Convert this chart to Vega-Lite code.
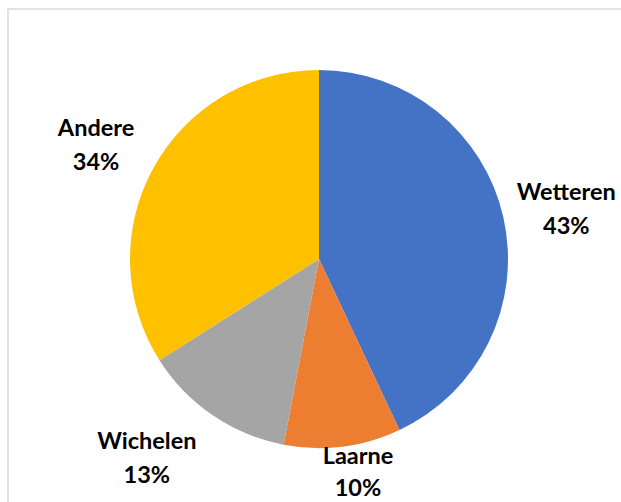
{
  "$schema": "https://vega.github.io/schema/vega-lite/v6.json",
  "width": 621,
  "height": 502,
  "autosize": {"type": "fit", "contains": "padding"},
  "padding": {"left": 7, "top": 8, "right": -3, "bottom": -3},
  "background": "white",
  "config": {
    "view": {"stroke": null},
    "text": {"font": "Lato", "fontWeight": "bold", "fontSize": 23.5, "fill": "#000000", "align": "center", "baseline": "middle"}
  },
  "data": {
    "values": [
      {"name": "Wetteren", "share": 0.43, "rank": 1},
      {"name": "Laarne", "share": 0.10, "rank": 2},
      {"name": "Wichelen", "share": 0.13, "rank": 3},
      {"name": "Andere", "share": 0.34, "rank": 4}
    ]
  },
  "transform": [
    {"stack": "share", "groupby": [], "sort": [{"field": "rank", "order": "ascending"}], "as": ["s0", "s1"]}
  ],
  "layer": [
    {
      "data": {"values": [{"frame": "border"}]},
      "mark": {"type": "rect", "fillOpacity": 0, "stroke": "#d9d9d9", "strokeWidth": 1.5},
      "encoding": {}
    },
    {
      "mark": {"type": "arc", "outerRadius": 189, "xOffset": 3.5, "yOffset": 2.5},
      "encoding": {
        "theta": {"field": "s0", "type": "quantitative", "scale": {"domain": [0, 1]}},
        "theta2": {"field": "s1"},
        "color": {
          "field": "name",
          "type": "nominal",
          "scale": {"domain": ["Wetteren", "Laarne", "Wichelen", "Andere"], "range": ["#4472C4", "#ED7D31", "#A5A5A5", "#FFC000"]},
          "legend": null
        }
      }
    },
    {
      "transform": [{"filter": "datum.name === 'Wetteren'"}],
      "mark": {"type": "text", "radius": 252, "thetaOffset": 1.377, "xOffset": 3.5, "yOffset": 2.5, "dy": -17},
      "encoding": {"theta": {"field": "s0", "type": "quantitative"}, "text": {"field": "name"}}
    },
    {
      "transform": [{"filter": "datum.name === 'Wetteren'"}],
      "mark": {"type": "text", "radius": 252, "thetaOffset": 1.377, "xOffset": 3.5, "yOffset": 2.5, "dy": 17},
      "encoding": {"theta": {"field": "s0", "type": "quantitative"}, "text": {"field": "share", "format": ".0%"}}
    },
    {
      "transform": [{"filter": "datum.name === 'Laarne'"}],
      "mark": {"type": "text", "radius": 218, "thetaOffset": 0.26, "xOffset": 3.5, "yOffset": 2.5, "dy": -16},
      "encoding": {"theta": {"field": "s0", "type": "quantitative"}, "text": {"field": "name"}}
    },
    {
      "transform": [{"filter": "datum.name === 'Laarne'"}],
      "mark": {"type": "text", "radius": 218, "thetaOffset": 0.26, "xOffset": 3.5, "yOffset": 2.5, "dy": 16},
      "encoding": {"theta": {"field": "s0", "type": "quantitative"}, "text": {"field": "share", "format": ".0%"}}
    },
    {
      "transform": [{"filter": "datum.name === 'Wichelen'"}],
      "mark": {"type": "text", "radius": 264, "thetaOffset": 0.522, "xOffset": 3.5, "yOffset": 2.5, "dy": -17},
      "encoding": {"theta": {"field": "s0", "type": "quantitative"}, "text": {"field": "name"}}
    },
    {
      "transform": [{"filter": "datum.name === 'Wichelen'"}],
      "mark": {"type": "text", "radius": 264, "thetaOffset": 0.522, "xOffset": 3.5, "yOffset": 2.5, "dy": 17},
      "encoding": {"theta": {"field": "s0", "type": "quantitative"}, "text": {"field": "share", "format": ".0%"}}
    },
    {
      "transform": [{"filter": "datum.name === 'Andere'"}],
      "mark": {"type": "text", "radius": 250, "thetaOffset": 1.035, "xOffset": 3.5, "yOffset": 2.5, "dy": -17},
      "encoding": {"theta": {"field": "s0", "type": "quantitative"}, "text": {"field": "name"}}
    },
    {
      "transform": [{"filter": "datum.name === 'Andere'"}],
      "mark": {"type": "text", "radius": 250, "thetaOffset": 1.035, "xOffset": 3.5, "yOffset": 2.5, "dy": 17},
      "encoding": {"theta": {"field": "s0", "type": "quantitative"}, "text": {"field": "share", "format": ".0%"}}
    }
  ]
}
